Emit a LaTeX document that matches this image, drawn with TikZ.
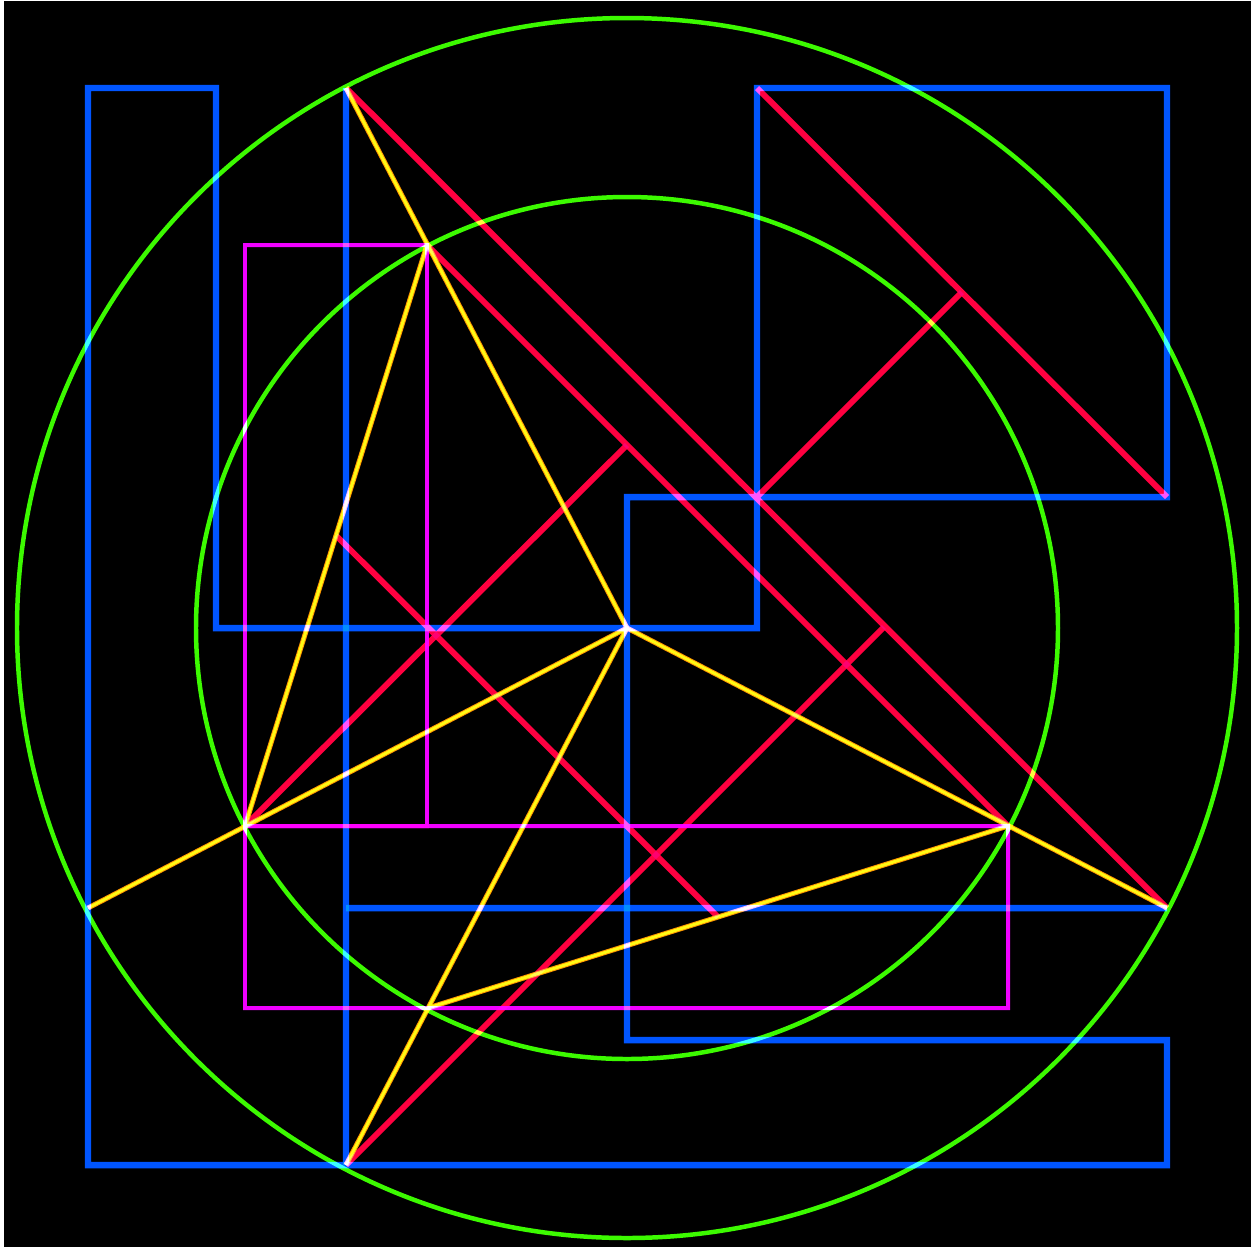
\documentclass[tikz,border=0pt]{standalone}
\usepackage{xcolor}
\usepackage{tikz}
\usetikzlibrary{calc}

\definecolor{geoblue}{RGB}{0,85,255}
\definecolor{geored}{RGB}{255,0,64}
\definecolor{geogreen}{RGB}{60,250,0}
\definecolor{geomagenta}{RGB}{240,0,255}
\definecolor{geoyellow}{RGB}{255,240,20}
\definecolor{geoorange}{RGB}{255,150,0}

\begin{document}
\begin{tikzpicture}[
		x={(0.02cm,0)}, y={(0,-0.02cm)},
		blueline/.style={draw=geoblue, line width=6.5pt*0.02/0.0352778},
		magline/.style={draw=geomagenta, line width=4pt*0.02/0.0352778},
		greenline/.style={draw=geogreen, line width=4.5pt*0.02/0.0352778},
		redline/.style={draw=geored, line width=6pt*0.02/0.0352778},
		yellowline/.style={draw=geoorange, line width=5pt*0.02/0.0352778,
			postaction={draw=geoyellow, line width=3pt*0.02/0.0352778}}
		]
		
		\useasboundingbox (0,0) rectangle (1255,1249);
		\fill[white] (0,0) rectangle (1255,1249);
		\fill[black] (4,1) rectangle (1251,1247);
		
		% points of the figure
		\coordinate (A) at (346,88);
		\coordinate (B) at (427,245);
		\coordinate (C) at (627,628);
		\coordinate (D) at (245,826);
		\coordinate (E) at (1008,826);
		\coordinate (F) at (428,1008);
		\coordinate (G) at (346,1165);
		\coordinate (H) at (88,908);
		\coordinate (I) at (1167,908);
		\coordinate (J) at (757,88);
		\coordinate (K) at (1167,497);
		\coordinate (L) at (757,497);
		\coordinate (P1) at (962,292);
		\coordinate (P2) at (627,445);
		\coordinate (P3) at (884,627);
		\coordinate (M1) at ($(B)!0.5!(D)$);
		\coordinate (M2) at ($(F)!0.5!(E)$);
		
		\begin{scope}[blend group=screen]
		% blue frame
		\draw[blueline] (88,88) -- (216,88) -- (216,628) -- (757,628) -- (J)
			-- (1167,88) -- (K) -- (627,497) -- (627,1040) -- (1167,1040)
			-- (1167,1165) -- (88,1165) -- cycle;
		\draw[blueline] (A) -- (G);
		\draw[blueline] (346,908) -- (I);
		
		% magenta rectangles
		\draw[magline] (245,245) rectangle (427,826);
		\draw[magline] (D) rectangle (1008,1008);
		
		% circles
		\draw[greenline] (C) circle (431);
		\draw[greenline] (C) circle (610);
		
		% red lines
		\draw[redline] (A) -- (I);
		\draw[redline] (J) -- (K);
		\draw[redline] (B) -- (E);
		\draw[redline] (D) -- (P2);
		\draw[redline] (G) -- (P3);
		\draw[redline] (L) -- (P1);
		\draw[redline] (M1) -- (M2);
		
		% yellow lines
		\draw[yellowline] (A) -- (C);
		\draw[yellowline] (H) -- (C);
		\draw[yellowline] (C) -- (I);
		\draw[yellowline] (C) -- (G);
		\draw[yellowline] (B) -- (D);
		\draw[yellowline] (F) -- (E);
		\end{scope}
		
	\end{tikzpicture}
\end{document}
